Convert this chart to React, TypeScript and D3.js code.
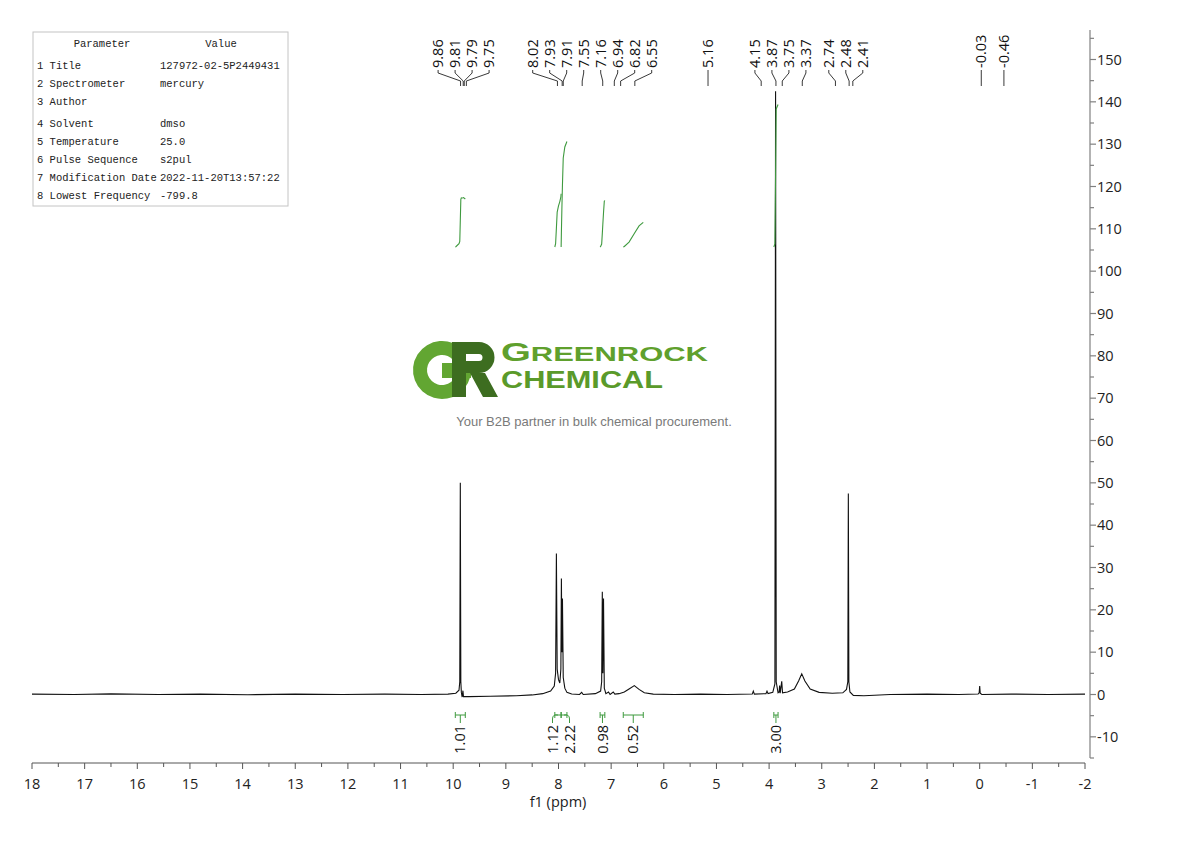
import * as d3 from "d3";

// 1H NMR trace: [ppm, intensity]
const spectrum: [number, number][] = [
  [18.0, 0.1], [17.2, 0.0], [16.5, 0.15], [15.6, 0.0], [14.8, 0.1], [13.9, -0.05],
  [13.0, 0.1], [12.1, 0.0], [11.3, 0.1], [10.6, 0.0], [10.1, 0.1], [9.95, 0.3],
  [9.89, 1.0], [9.875, 3], [9.865, 50], [9.855, 3], [9.845, 0.5], [9.83, -0.6],
  [9.815, 0.9], [9.805, -0.5], [9.7, -0.5], [9.3, -0.4], [8.8, -0.3], [8.5, -0.1],
  [8.3, 0.2], [8.15, 0.8], [8.08, 2.0], [8.055, 5], [8.04, 33.3], [8.025, 6],
  [8.0, 3.5], [7.975, 2.7], [7.955, 6], [7.945, 27.4], [7.935, 10], [7.925, 22.7],
  [7.91, 4], [7.88, 1.5], [7.84, 0.5], [7.75, 0.1], [7.6, 0.0], [7.56, 0.5],
  [7.53, 0.0], [7.3, 0.2], [7.2, 0.8], [7.18, 3], [7.168, 24.3], [7.158, 5],
  [7.145, 22.7], [7.13, 1.5], [7.1, 0.2], [7.05, 0.6], [7.02, 0.0], [6.96, 0.6],
  [6.93, 0.1], [6.85, 0.2], [6.75, 0.6], [6.66, 1.3], [6.56, 2.1], [6.47, 1.2],
  [6.37, 0.4], [6.2, 0.1], [5.8, 0.0], [5.3, 0.1], [4.8, 0.0], [4.32, 0.1],
  [4.3, 0.8], [4.28, 0.1], [4.06, 0.2], [4.04, 0.8], [4.02, 0.2], [3.93, 0.5],
  [3.89, 2.5], [3.877, 142.5], [3.865, 3], [3.83, 0.4], [3.81, 0.6], [3.8, 2.1],
  [3.79, 0.3], [3.76, 3.1], [3.745, 0.4], [3.65, 0.6], [3.52, 1.3], [3.44, 3.2],
  [3.38, 4.9], [3.32, 3.2], [3.22, 1.3], [3.05, 0.5], [2.8, 0.3], [2.6, 0.4],
  [2.53, 1.2], [2.505, 3], [2.495, 47.5], [2.485, 3], [2.465, 0.6], [2.4, -0.2],
  [2.2, -0.3], [1.7, 0.0], [1.0, 0.1], [0.4, 0.0], [0.03, 0.1], [0.01, 0.4],
  [0.0, 2.0], [-0.01, 0.3], [-0.04, 0.0], [-0.6, 0.1], [-1.3, 0.0], [-2.0, 0.1],
];

const peakLabels = [
  9.86, 9.81, 9.79, 9.75, 8.02, 7.93, 7.91, 7.55, 7.16, 6.94, 6.82, 6.55, 5.16,
  4.15, 3.87, 3.75, 3.37, 2.74, 2.48, 2.41, -0.03, -0.46,
];

const integralFrom = [9.96, 8.07, 7.95, 7.21, 6.77, 3.91];
const integralTo = [9.77, 7.95, 7.84, 7.12, 6.39, 3.83];
const integralValues = [1.01, 1.12, 2.22, 0.98, 0.52, 3.0];

const xTicks = [18, 17, 16, 15, 14, 13, 12, 11, 10, 9, 8, 7, 6, 5, 4, 3, 2, 1, 0, -1, -2];
const yTicks = [-10, 0, 10, 20, 30, 40, 50, 60, 70, 80, 90, 100, 110, 120, 130, 140, 150];

const paramNames = [
  "Title", "Spectrometer", "Author", "Solvent", "Temperature",
  "Pulse Sequence", "Modification Date", "Lowest Frequency",
];
const paramValues = [
  "127972-02-5P2449431", "mercury", "", "dmso", "25.0",
  "s2pul", "2022-11-20T13:57:22", "-799.8",
];

const SANS = "'Open Sans', 'Noto Sans', sans-serif";
const GREEN = "#3f9a3f";

// push overlapping labels apart, keeping each group centred on its targets
function spread(targets: number[], gap: number) {
  let groups = targets.map((t) => ({ sum: t, n: 1, start: t }));
  let merged = true;
  while (merged) {
    merged = false;
    for (let i = 0; i < groups.length - 1; i++) {
      const a = groups[i];
      const b = groups[i + 1];
      if (a.start + a.n * gap > b.start) {
        const n = a.n + b.n;
        const sum = a.sum + b.sum;
        groups.splice(i, 2, { sum, n, start: sum / n - ((n - 1) * gap) / 2 });
        merged = true;
        break;
      }
    }
  }
  return groups.flatMap((g) => d3.range(g.n).map((k) => g.start + k * gap));
}

export default function App() {
  const width = 1190;
  const height = 841;

  const x = d3.scaleLinear().domain([18, -2]).range([32, 1085]);
  const y = d3.scaleLinear().domain([0, 150]).range([694.5, 59.5]);
  const yInt = d3.scaleLinear().domain([0, 1]).range([247, 199.5]);

  const interp = d3
    .scaleLinear()
    .domain(spectrum.map((d) => d[0]))
    .range(spectrum.map((d) => d[1]));

  const line = d3
    .line<[number, number]>()
    .x((d) => x(d[0]))
    .y((d) => y(d[1]));

  // running integral of the trace between two shifts
  const integralCurve = (from: number, to: number, value: number) => {
    const pts = [from, ...spectrum.map((d) => d[0]).filter((p) => p < from && p > to), to];
    let acc = 0;
    const out: [number, number][] = [[from, 0]];
    for (let i = 1; i < pts.length; i++) {
      acc += ((pts[i - 1] - pts[i]) * (interp(pts[i - 1]) + interp(pts[i]))) / 2;
      out.push([pts[i], acc]);
    }
    return out.map(([p, a]) => [x(p), yInt((a / acc) * value)] as [number, number]);
  };
  const intLine = d3.line<[number, number]>();

  const peakX = peakLabels.map((p) => x(p));
  const peakLabelX = spread(peakX, 17);

  const intCentres = integralFrom.map((f, i) => x((f + integralTo[i]) / 2));
  const intLabelX = spread(intCentres, 17);

  const minorX = x.ticks(40);
  const minorY = y.copy().domain([-15, 155]).ticks(34);

  // G of the logo: thick ring with a bar
  const gArc = d3.arc()({
    innerRadius: 15,
    outerRadius: 29,
    startAngle: Math.PI / 2,
    endAngle: Math.PI * 2.27,
  } as any);

  return (
    <svg
      width={width}
      height={height}
      style={{ position: "absolute", left: 0, top: 0, background: "#fff" }}
    >
      {/* parameter table */}
      <g fontFamily="'Liberation Mono', monospace" fontSize={10.5} fill="#222">
        <rect x={33} y={32} width={255} height={174} fill="#fff" stroke="#c4c4c4" />
        <text x={102} y={47} textAnchor="middle">Parameter</text>
        <text x={221} y={47} textAnchor="middle">Value</text>
        {paramNames.map((name, i) => {
          const ty = 69 + i * 18 + (i >= 3 ? 4 : 0);
          return (
            <g key={name}>
              <text x={37} y={ty}>{`${i + 1} ${name}`}</text>
              <text x={160} y={ty}>{paramValues[i]}</text>
            </g>
          );
        })}
      </g>

      {/* watermark logo */}
      <g>
        <path d={gArc ?? ""} transform="translate(442,370)" fill="#62a632" />
        <rect x={442} y={363} width={29} height={15} fill="#62a632" />
        <path
          d="M452,342 H479 A15.5,15.5 0 0 1 479,373 H466 V397 H452 Z M466,354 V361 H479 A3.5,3.5 0 0 0 479,354 Z M470,373 H485 L498,397 H483 Z"
          fill="#3d6d20"
          fillRule="evenodd"
        />
        <text
          x={501}
          y={360.5}
          fontFamily="'Liberation Sans', sans-serif"
          fontWeight="bold"
          fill="#5fa02d"
          textLength={207}
          lengthAdjust="spacingAndGlyphs"
        >
          <tspan fontSize={26}>G</tspan>
          <tspan fontSize={21}>REENROCK</tspan>
        </text>
        <text
          x={501}
          y={388}
          fontFamily="'Liberation Sans', sans-serif"
          fontWeight="bold"
          fontSize={23}
          fill="#5a9a2a"
          textLength={162}
          lengthAdjust="spacingAndGlyphs"
        >
          CHEMICAL
        </text>
        <text
          x={594}
          y={426}
          textAnchor="middle"
          fontFamily="'Liberation Sans', Arial, sans-serif"
          fontSize={13}
          fill="#7a7a7a"
        >
          Your B2B partner in bulk chemical procurement.
        </text>
      </g>

      {/* spectrum */}
      <path d={line(spectrum) ?? ""} fill="none" stroke="#111" strokeWidth={1.1} />

      {/* integral curves */}
      {integralFrom.map((f, i) => (
        <path
          key={`ic${i}`}
          d={intLine(integralCurve(f, integralTo[i], integralValues[i])) ?? ""}
          fill="none"
          stroke={GREEN}
          strokeWidth={1.1}
        />
      ))}

      {/* integral brackets and values */}
      {integralFrom.map((f, i) => {
        const x0 = x(f);
        const x1 = x(integralTo[i]);
        const cx = intCentres[i];
        const lx = intLabelX[i];
        const stem =
          Math.abs(lx - cx) < 1
            ? `M${cx},715 L${cx},723`
            : `M${cx},715 Q${lx},714 ${lx},719 L${lx},723`;
        return (
          <g key={`ib${i}`} stroke={GREEN} strokeWidth={1} fill="none">
            <path d={`M${x0},712 L${x0},718 M${x0},715 L${x1},715 M${x1},712 L${x1},718`} />
            <path d={stem} />
            <text
              transform={`translate(${lx},725) rotate(-90)`}
              textAnchor="end"
              dy="0.35em"
              fontFamily={SANS}
              fontSize={14.5}
              fill="#111"
              stroke="none"
            >
              {integralValues[i].toFixed(2)}
            </text>
          </g>
        );
      })}

      {/* peak labels */}
      {peakLabels.map((p, i) => {
        const lx = peakLabelX[i];
        const px = peakX[i];
        return (
          <g key={`pk${i}`}>
            <path
              d={`M${lx},70 L${lx},73 L${px},81 L${px},86`}
              fill="none"
              stroke="#222"
              strokeWidth={0.9}
            />
            <text
              transform={`translate(${lx},68) rotate(-90)`}
              dy="0.35em"
              fontFamily={SANS}
              fontSize={14.5}
              fill="#111"
            >
              {p.toFixed(2)}
            </text>
          </g>
        );
      })}

      {/* x axis */}
      <g stroke="#555" strokeWidth={1}>
        <line x1={32} x2={1085} y1={763} y2={763} />
        {minorX.map((t) => (
          <line key={`mx${t}`} x1={x(t)} x2={x(t)} y1={763} y2={Number.isInteger(t) ? 769 : 767} />
        ))}
      </g>
      {xTicks.map((t) => (
        <text
          key={`xt${t}`}
          x={x(t)}
          y={789}
          textAnchor="middle"
          fontFamily={SANS}
          fontSize={14.5}
          fill="#222"
        >
          {t}
        </text>
      ))}
      <text x={558} y={807} textAnchor="middle" fontFamily={SANS} fontSize={14.5} fill="#222">
        f1 (ppm)
      </text>

      {/* y axis */}
      <g stroke="#808080" strokeWidth={1.2}>
        <line x1={1090} x2={1090} y1={30} y2={758} />
        {minorY.map((t) => (
          <line key={`my${t}`} x1={1090} x2={t % 10 === 0 ? 1096 : 1094} y1={y(t)} y2={y(t)} />
        ))}
      </g>
      {yTicks.map((t) => (
        <text
          key={`yt${t}`}
          x={1097}
          y={y(t)}
          dy="0.35em"
          fontFamily={SANS}
          fontSize={14.5}
          fill="#222"
        >
          {t}
        </text>
      ))}
    </svg>
  );
}
